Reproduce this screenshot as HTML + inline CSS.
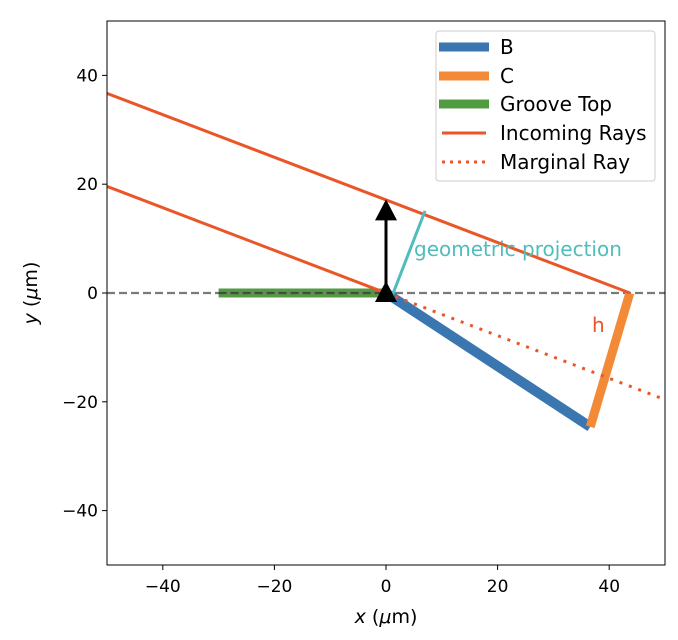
<!DOCTYPE html>
<html><head><meta charset="utf-8"><style>
body{margin:0;background:#fff}
svg{display:block;font-family:"DejaVu Sans","Liberation Sans",sans-serif}
</style></head><body>
<svg id="chart" width="678" height="640" viewBox="0 0 678 640">
<defs><clipPath id="clip"><rect x="107" y="21" width="558" height="544"/></clipPath></defs>
<g id="marks" clip-path="url(#clip)"></g>
<rect x="107" y="21" width="558" height="544" fill="none" stroke="#000" stroke-width="1"/>
<g id="axes"></g>
<text x="386" y="623" font-size="19" text-anchor="middle"><tspan font-style="italic">x</tspan> (<tspan font-style="italic">μ</tspan>m)</text>
<text transform="translate(37,293) rotate(-90)" font-size="19" text-anchor="middle"><tspan font-style="italic">y</tspan> (<tspan font-style="italic">μ</tspan>m)</text>
<g>
<rect x="436" y="31" width="219" height="150" rx="3" fill="#fff" fill-opacity="0.8" stroke="#ccc"/>
<line x1="439" y1="47" x2="489" y2="47" stroke="#3a76b0" stroke-width="9"/>
<text x="500" y="54" font-size="20">B</text>
<line x1="439" y1="76" x2="489" y2="76" stroke="#f28a38" stroke-width="9"/>
<text x="500" y="83" font-size="20">C</text>
<line x1="439" y1="104" x2="489" y2="104" stroke="#519b41" stroke-width="9"/>
<text x="500" y="111" font-size="20">Groove Top</text>
<line x1="442" y1="133" x2="486" y2="133" stroke="#ea5628" stroke-width="3"/>
<text x="500" y="140" font-size="20">Incoming Rays</text>
<line x1="442" y1="162" x2="486" y2="162" stroke="#ea5628" stroke-width="3" stroke-dasharray="3,5"/>
<text x="500" y="169" font-size="20">Marginal Ray</text>
</g>
</svg>
<script>
const xTicks=[-40,-20,0,20,40];
const yTicks=[-40,-20,0,20,40];
const incoming1=[[-50,36.7],[43.7,0]];
const incoming2=[[-50,19.6],[0,0]];
const marginal=[[0,0],[50,-19.6]];
const segB=[[0,0],[36.6,-24.6]];
const segC=[[36.6,-24.6],[43.7,0]];
const groove=[[-30,0],[0,0]];
const projection=[[1,-0.8],[7,15.1]];
const arrowTip=[0,17.2];
const X=v=>386+v*5.58, Y=v=>293-v*5.44;
const NS="http://www.w3.org/2000/svg";
const marks=document.getElementById('marks'), axes=document.getElementById('axes');
function mk(p,tag,a){const e=document.createElementNS(NS,tag);for(const k in a)e.setAttribute(k,a[k]);p.appendChild(e);return e;}
function ln(pts,st,name){const e=mk(marks,'line',Object.assign({x1:X(pts[0][0]),y1:Y(pts[0][1]),x2:X(pts[1][0]),y2:Y(pts[1][1])},st));

return e;}
ln(groove,{stroke:'#519b41','stroke-width':9},'groove-top');
ln([[-50,0],[50,0]],{stroke:'#7a7a7a','stroke-width':2.2,'stroke-dasharray':'8,4'},'zero-line');
ln(groove,{stroke:'#333','stroke-width':2.2,'stroke-dasharray':'8,4','stroke-opacity':0.7},'groove-dash');
ln(segB,{stroke:'#3a76b0','stroke-width':10},'segment-b');
ln(segC,{stroke:'#f28a38','stroke-width':9},'segment-c');
ln(incoming1,{stroke:'#ea5628','stroke-width':3},'incoming-ray-1');
ln(incoming2,{stroke:'#ea5628','stroke-width':3},'incoming-ray-2');
ln(marginal,{stroke:'#ea5628','stroke-width':3,'stroke-dasharray':'3,7'},'marginal-ray');
ln(projection,{stroke:'#4fbdbd','stroke-width':3},'geometric-projection-line');
ln([[0,0],[arrowTip[0],arrowTip[1]-3]],{stroke:'#000','stroke-width':3},'arrow-shaft');
const ax=X(arrowTip[0]),ay=Y(arrowTip[1]);
let t=mk(marks,'polygon',{points:`${ax},${ay} ${ax-11},${ay+21} ${ax+11},${ay+21}`,fill:'#000'});


const bx=X(0),by=Y(0);
t=mk(marks,'polygon',{points:`${bx},${by-12} ${bx-11},${by+9} ${bx+11},${by+9}`,fill:'#000'});


t=mk(marks,'text',{x:414,y:256,'font-size':20,fill:'#4fbdbd'});t.textContent='geometric projection';


t=mk(marks,'text',{x:592,y:332,'font-size':20,fill:'#ea5628'});t.textContent='h';


xTicks.forEach(v=>{mk(axes,'line',{x1:X(v),x2:X(v),y1:565,y2:570,stroke:'#000'});
const e=mk(axes,'text',{x:X(v),y:592,'font-size':17,'text-anchor':'middle'});e.textContent=v<0?'\u2212'+(-v):v;

});
yTicks.forEach(v=>{mk(axes,'line',{x1:102,x2:107,y1:Y(v),y2:Y(v),stroke:'#000'});
const e=mk(axes,'text',{x:98,y:Y(v)+6,'font-size':17,'text-anchor':'end'});e.textContent=v<0?'\u2212'+(-v):v;

});
</script>
</body></html>
